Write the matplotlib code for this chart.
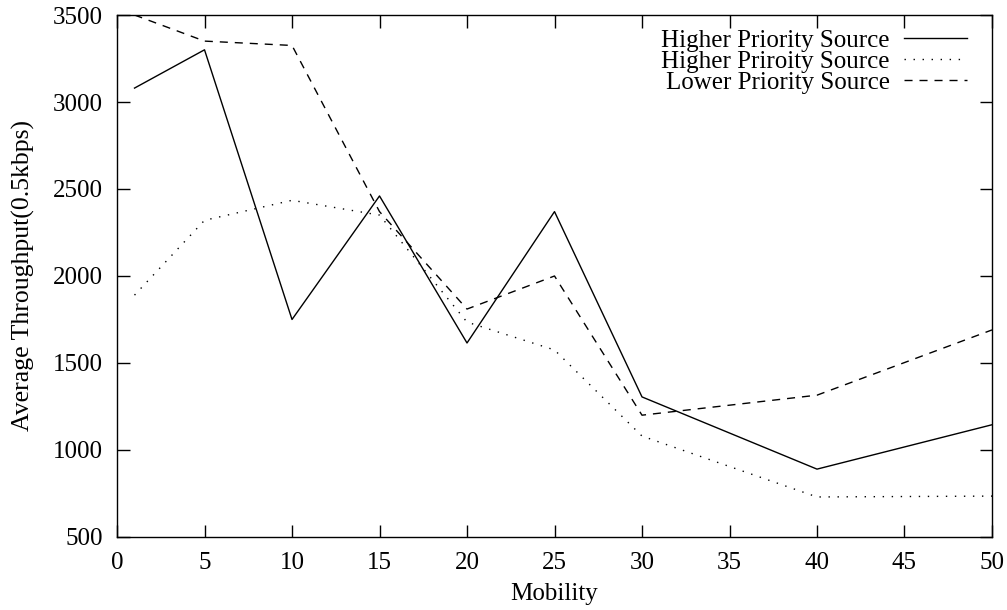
import numpy as np
import matplotlib.pyplot as plt
from matplotlib.lines import Line2D

plt.rcParams['font.family'] = ['Liberation Serif', 'DejaVu Serif']

mobility = [1, 5, 10, 15, 20, 25, 30, 40, 50]
high_1 = [3080, 3300, 1750, 2460, 1615, 2370, 1305, 890, 1145]
high_2 = [1890, 2320, 2435, 2350, 1735, 1575, 1080, 730, 735]
low = [3500, 3350, 3325, 2370, 1810, 2000, 1200, 1315, 1690]

labels = ['Higher Priority Source', 'Higher Priroity Source', 'Lower Priority Source']
styles = ['-', (0, (1, 5.5)), (0, (5.8, 5))]

fig = plt.figure(figsize=(10.07, 6.10), dpi=100)
ax = fig.add_axes([0.1162, 0.1197, 0.8689, 0.8557])

series = [high_1, high_2, low]
for vals, ls in zip(series, styles):
    ax.plot(mobility, vals, color='black', linestyle=ls, linewidth=1.0)

ax.set_xlim(0, 50)
ax.set_ylim(500, 3500)
ax.set_xticks(np.arange(0, 51, 5))
ax.set_yticks(np.arange(500, 3501, 500))
ax.tick_params(direction='in', length=9, width=1, top=True, right=True,
               labelsize=18, color='black')
ax.tick_params(axis='y', pad=10)
ax.tick_params(axis='x', pad=11)
for s in ax.spines.values():
    s.set_linewidth(1.0)

ax.set_xlabel('Mobility', fontsize=18, labelpad=6)
ax.set_ylabel('Average Throughput(0.5kbps)', fontsize=18.5, labelpad=13)

# gnuplot-style key: right-aligned text, sample line on the right
rows = [0.950, 0.910, 0.870]
for lab, ls, y in zip(labels, styles, rows):
    ax.text(0.8834, y, lab, transform=ax.transAxes, ha='right', va='center', fontsize=18)
    ax.add_line(Line2D([0.8994, 0.9714], [y + 0.006, y + 0.006], transform=ax.transAxes,
                       color='black', linestyle=ls, linewidth=1.0))

fig.savefig('out.png', dpi=100)
